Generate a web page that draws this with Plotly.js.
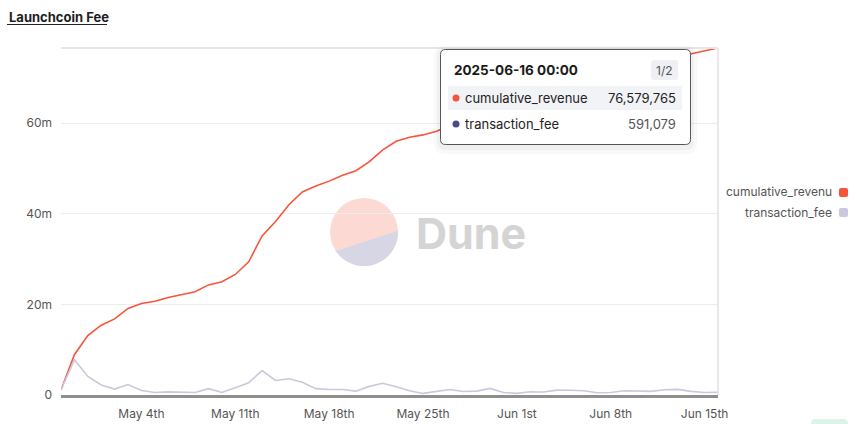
<!DOCTYPE html>
<html><head><meta charset="utf-8">
<script src="https://cdn.plot.ly/plotly-3.0.1.min.js"></script>
<style>html,body{margin:0;padding:0;background:#fff;}#chart{width:858px;height:424px;}</style>
</head><body><div id="chart"></div>
<script>
const dates = [
 '2025-04-28','2025-04-29','2025-04-30','2025-05-01','2025-05-02','2025-05-03','2025-05-04','2025-05-05','2025-05-06','2025-05-07',
 '2025-05-08','2025-05-09','2025-05-10','2025-05-11','2025-05-12','2025-05-13','2025-05-14','2025-05-15','2025-05-16','2025-05-17',
 '2025-05-18','2025-05-19','2025-05-20','2025-05-21','2025-05-22','2025-05-23','2025-05-24','2025-05-25','2025-05-26','2025-05-27',
 '2025-05-28','2025-05-29','2025-05-30','2025-05-31','2025-06-01','2025-06-02','2025-06-03','2025-06-04','2025-06-05','2025-06-06',
 '2025-06-07','2025-06-08','2025-06-09','2025-06-10','2025-06-11','2025-06-12','2025-06-13','2025-06-14','2025-06-15','2025-06-16'];

const cumulativeRevenue = [
 1100000, 8900000, 13100000, 15400000, 16800000, 19100000, 20200000, 20700000, 21500000, 22200000,
 22800000, 24300000, 25000000, 26600000, 29400000, 35100000, 38300000, 42000000, 44800000, 46100000,
 47200000, 48500000, 49500000, 51500000, 54100000, 56000000, 56900000, 57400000, 58200000, 59400000,
 60200000, 61100000, 62600000, 63200000, 63600000, 64300000, 65000000, 66100000, 67200000, 68200000,
 68700000, 69300000, 70300000, 71200000, 72000000, 73200000, 74400000, 75300000, 75990000, 76579765];

const transactionFee = [
 1100000, 7800000, 4100000, 2200000, 1300000, 2300000, 1000000, 550000, 700000, 650000,
 550000, 1400000, 550000, 1600000, 2700000, 5400000, 3200000, 3600000, 2800000, 1400000,
 1200000, 1200000, 850000, 1900000, 2600000, 1800000, 950000, 350000, 700000, 1200000,
 780000, 850000, 1450000, 550000, 350000, 700000, 650000, 1080000, 1050000, 950000,
 500000, 550000, 950000, 850000, 800000, 1150000, 1250000, 800000, 550000, 591079];

const xTickVals = ['2025-05-04','2025-05-11','2025-05-18','2025-05-25','2025-06-01','2025-06-08','2025-06-15'];
const xTickText = ['May 4th','May 11th','May 18th','May 25th','Jun 1st','Jun 8th','Jun 15th'];
const yTickVals = [0, 20000000, 40000000, 60000000];
const yTickText = ['0', '20m', '40m', '60m'];
const seriesNames = ['cumulative_revenue', 'transaction_fee'];
const tooltipDate = '2025-06-16 00:00';
const tooltipValues = ['76,579,765', '591,079'];

const RED = '#f6553b', LAV = '#c9c8df', NAVY = '#4b4a8c';
const FONT = 'Inter, "Noto Sans", sans-serif';

// pixel -> paper helpers (plot area 61..718 x 48..395)
const L = 61, R = 718, T = 48, B = 395;
const px = x => (x - L) / (R - L);
const py = y => (B - y) / (B - T);

function roundRect(x0, y0, x1, y1, r) {
  const p = [
    ['M', x0 + r, y0], ['L', x1 - r, y0], ['Q', x1, y0, x1, y0 + r], ['L', x1, y1 - r],
    ['Q', x1, y1, x1 - r, y1], ['L', x0 + r, y1], ['Q', x0, y1, x0, y1 - r], ['L', x0, y0 + r],
    ['Q', x0, y0, x0 + r, y0]];
  return p.map(s => {
    let out = s[0];
    for (let i = 1; i < s.length; i += 2) out += (i > 1 ? ' ' : '') + px(s[i]).toFixed(5) + ',' + py(s[i + 1]).toFixed(5);
    return out;
  }).join(' ') + ' Z';
}
function segmentPath(cx, cy, r, a0, a1) {
  let s = '';
  for (let a = a0; a <= a1 + 0.01; a += 4) {
    const t = a * Math.PI / 180;
    const x = cx + r * Math.cos(t), y = cy + r * Math.sin(t);
    s += (s ? ' L' : 'M') + px(x).toFixed(5) + ',' + py(y).toFixed(5);
  }
  return s + ' Z';
}

const traces = [
  {x: dates, y: cumulativeRevenue, name: seriesNames[0], type: 'scatter', mode: 'lines',
   line: {color: RED, width: 1.6}, hoverinfo: 'skip'},
  {x: dates, y: transactionFee, name: seriesNames[1], type: 'scatter', mode: 'lines',
   line: {color: LAV, width: 1.6}, hoverinfo: 'skip'}
];

const shapes = [
  // watermark
  {type: 'circle', xref: 'paper', yref: 'paper', x0: px(330), x1: px(398), y0: py(266), y1: py(198),
   fillcolor: '#fdd9d3', line: {width: 0}, layer: 'below'},
  {type: 'path', xref: 'paper', yref: 'paper', path: segmentPath(364, 232, 34, -2, 146),
   fillcolor: '#d7d6e4', line: {width: 0}, layer: 'below'},
  // top boundary and hover line
  {type: 'line', xref: 'paper', yref: 'paper', x0: 0, x1: 1, y0: 1, y1: 1, line: {color: '#e6e6e6', width: 2}},
  {type: 'line', xref: 'paper', yref: 'paper', x0: 1, x1: 1, y0: 0, y1: 1, line: {color: '#e2e2e2', width: 1.5}},
  // tooltip shadow
  {type: 'path', xref: 'paper', yref: 'paper', path: roundRect(434, 46, 697, 154, 10), fillcolor: 'rgba(0,0,0,0.025)', line: {width: 0}},
  {type: 'path', xref: 'paper', yref: 'paper', path: roundRect(437, 48, 694, 150, 8), fillcolor: 'rgba(0,0,0,0.035)', line: {width: 0}},
  // tooltip box
  {type: 'path', xref: 'paper', yref: 'paper', path: roundRect(440.5, 49.5, 690.5, 144.5, 5), fillcolor: '#ffffff', line: {color: '#555555', width: 1}},
  {type: 'path', xref: 'paper', yref: 'paper', path: roundRect(651, 60, 678, 80, 3), fillcolor: '#eff0f4', line: {width: 0}},
  {type: 'rect', xref: 'paper', yref: 'paper', x0: px(448), x1: px(682), y0: py(110), y1: py(86), fillcolor: '#f2f3f7', line: {width: 0}},
  {type: 'circle', xref: 'paper', yref: 'paper', x0: px(452.5), x1: px(459.5), y0: py(101.5), y1: py(94.5), fillcolor: RED, line: {width: 0}},
  {type: 'circle', xref: 'paper', yref: 'paper', x0: px(452.5), x1: px(459.5), y0: py(127.5), y1: py(120.5), fillcolor: NAVY, line: {width: 0}},
  // legend swatches
  {type: 'path', xref: 'paper', yref: 'paper', path: roundRect(839, 188, 848, 197, 2), fillcolor: RED, line: {width: 0}},
  {type: 'path', xref: 'paper', yref: 'paper', path: roundRect(839, 208, 848, 217, 2), fillcolor: LAV, line: {width: 0}},
  // title underline
  {type: 'line', xref: 'paper', yref: 'paper', x0: px(7), x1: px(107), y0: py(24.5), y1: py(24.5), line: {color: '#222', width: 1}},
  // bottom right badge
  {type: 'path', xref: 'paper', yref: 'paper', path: roundRect(811, 419, 848, 432, 5), fillcolor: '#dcf4e8', line: {width: 0}}
];

const ann = (x, y, text, opts) => Object.assign({xref: 'paper', yref: 'paper', x: px(x), y: py(y), text: text,
  showarrow: false, xanchor: 'left', yanchor: 'middle', font: {family: FONT, size: 13, color: '#222'}}, opts || {});

const annotations = [
  ann(7, 17, '<b>Launchcoin Fee</b>', {font: {family: FONT, size: 13, color: '#1e1e1e'}}),
  ann(414, 233, '<b>Dune</b>', {font: {family: FONT, size: 43, color: '#d4d4d4'}}),
  ann(452, 70, '<b>' + tooltipDate + '</b>', {font: {family: FONT, size: 13.5, color: '#1a1a1a'}}),
  ann(664.5, 70, '1/2', {xanchor: 'center', font: {family: FONT, size: 12, color: '#555'}}),
  ann(463, 98, seriesNames[0], {font: {family: FONT, size: 13, color: '#222'}}),
  ann(678, 98, tooltipValues[0], {xanchor: 'right', font: {family: FONT, size: 13, color: '#222'}}),
  ann(463, 124, seriesNames[1], {font: {family: FONT, size: 13, color: '#222'}}),
  ann(678, 124, tooltipValues[1], {xanchor: 'right', font: {family: FONT, size: 13, color: '#555'}}),
  ann(834, 192, 'cumulative_revenu', {xanchor: 'right', font: {family: FONT, size: 12, color: '#555'}}),
  ann(834, 212, seriesNames[1], {xanchor: 'right', font: {family: FONT, size: 12, color: '#555'}})
];

const layout = {
  width: 858, height: 424,
  margin: {l: L, r: 858 - R, t: T, b: 424 - B, pad: 0},
  paper_bgcolor: '#ffffff', plot_bgcolor: 'rgba(0,0,0,0)',
  showlegend: false,
  font: {family: FONT, size: 12, color: '#555'},
  xaxis: {type: 'date', range: [dates[0], dates[dates.length - 1]], tickvals: xTickVals, ticktext: xTickText,
    showgrid: false, zeroline: false, showline: true, linecolor: '#8e8e8e', linewidth: 2.5,
    ticks: '', ticklabelstandoff: 6, tickfont: {family: FONT, size: 12, color: '#555'}, automargin: false, fixedrange: true},
  yaxis: {range: [0, cumulativeRevenue[cumulativeRevenue.length - 1]], tickvals: yTickVals, ticktext: yTickText,
    showgrid: true, gridcolor: '#ededed', gridwidth: 1, zeroline: false, showline: false,
    ticks: '', ticklabelstandoff: 8, tickfont: {family: FONT, size: 12, color: '#555'}, automargin: false, fixedrange: true},
  shapes: shapes,
  annotations: annotations
};

Plotly.newPlot('chart', traces, layout, {displayModeBar: false, staticPlot: true});
</script>
</body></html>
